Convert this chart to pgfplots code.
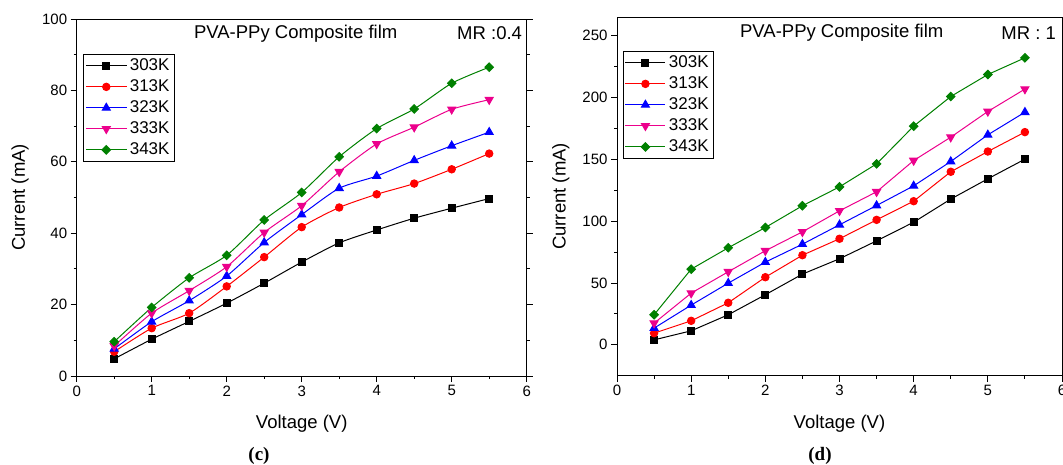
\documentclass[border=0pt]{standalone}
\usepackage{fontspec}
\setmainfont{Liberation Sans}
\newfontfamily\capfont{Liberation Serif}
\usepackage{pgfplots}
\usepackage{pgfplotstable}
\pgfplotsset{compat=1.18}

\pgfplotstableread{
V   a    b    c    d    e
0.5 4.8  6.8  7.6  8.4  9.6
1.0 10.3 13.4 15.2 17.6 19.2
1.5 15.3 17.6 21.1 23.9 27.5
2.0 20.4 25.1 28.0 30.6 33.8
2.5 26.0 33.3 37.4 40.2 43.7
3.0 31.9 41.7 45.2 47.7 51.4
3.5 37.3 47.2 52.6 57.2 61.4
4.0 40.9 50.9 56.0 65.0 69.3
4.5 44.2 53.9 60.4 69.7 74.8
5.0 47.0 57.9 64.5 74.7 82.0
5.5 49.7 62.3 68.3 77.4 86.5
}\tabc

\pgfplotstableread{
V   a     b     c     d     e
0.5 4.0   9.4   13.5  17.5  24.3
1.0 11.3  19.4  32.1  41.8  61.2
1.5 24.3  34.0  49.9  59.1  78.5
2.0 40.5  54.7  66.9  76.1  94.9
2.5 57.2  72.5  81.4  91.4  112.5
3.0 69.6  85.8  97.1  108.4 127.8
3.5 84.1  101.1 112.7 123.8 146.4
4.0 99.2  116.2 128.6 149.1 176.9
4.5 117.9 140.0 148.3 168.0 200.9
5.0 134.3 156.4 169.9 188.8 218.7
5.5 150.2 172.1 188.2 206.9 232.2
}\tabd

\definecolor{dgreen}{RGB}{0,128,0}

\pgfplotsset{
  iv/.style={
    scale only axis,
    anchor=south west,
    xmin=0, xmax=6, xtick={0,1,...,6}, minor x tick num=1,
    minor y tick num=1,
    tick align=outside, xtick pos=left, ytick pos=both,
    yticklabel pos=left,
    major tick length=6pt, minor tick length=3pt,
    every tick/.append style={black, line width=0.9pt},
    every minor tick/.append style={black, line width=0.9pt},
    axis line style={line width=0.9pt},
    tick label style={font=\fontsize{15}{18}\selectfont},
    /pgf/number format/assume math mode=true,
    label style={font=\fontsize{18.5}{22}\selectfont},
    xlabel={Voltage (V)}, ylabel={Current (mA)},
    xlabel style={at={(axis description cs:0.5,-0.1345)}, anchor=center},
    ylabel style={at={(axis description cs:-0.126,0.5)}, anchor=center},
    legend cell align=left,
    legend style={anchor=north west, draw=black, line width=0.8pt,
      font=\fontsize{17}{20}\selectfont, row sep=0pt,
      inner xsep=2pt, inner ysep=1pt,
      nodes={inner xsep=3pt, inner ysep=2pt, text height=13pt, text depth=4pt}},
    legend image code/.code={\draw[mark repeat=2,mark phase=2]
      plot coordinates {(0pt,0pt)(20pt,0pt)(40pt,0pt)};},
  },
  s303/.style={black, line width=1pt, mark=square*, mark size=3.5pt, mark options={solid}},
  s313/.style={red, line width=1pt, mark=*, mark size=3.7pt, mark options={solid}},
  s323/.style={blue, line width=1pt, mark=triangle*, mark size=4.6pt, mark options={solid}},
  s333/.style={magenta, line width=1pt, mark=triangle*, mark size=4.6pt, mark options={solid, rotate=180}},
  s343/.style={dgreen, line width=1pt, mark=square*, mark size=3pt, mark options={solid, rotate=45}},
}

\begin{document}
\begin{tikzpicture}
% (c)
\begin{axis}[iv,
  at={(76.7pt,89pt)}, width=450pt, height=357pt,
  ymin=0, ymax=100, ytick={0,20,...,100},
  legend style={at={(axis description cs:0.0149,0.902)}},
]
\addplot[s303, smooth, tension=0.4] table[x=V,y=a]{\tabc};
\addplot[s313, smooth, tension=0.4] table[x=V,y=b]{\tabc};
\addplot[s323, smooth, tension=0.4] table[x=V,y=c]{\tabc};
\addplot[s333, smooth, tension=0.4] table[x=V,y=d]{\tabc};
\addplot[s343, smooth, tension=0.4] table[x=V,y=e]{\tabc};
\legend{303K,313K,323K,333K,343K}
\node[font=\fontsize{18.5}{22}\selectfont, inner sep=0pt] at (axis cs:2.92,96) {PVA-PPy Composite film};
\node[font=\fontsize{18.5}{22}\selectfont, inner sep=0pt, anchor=east] at (axis cs:5.94,96) {MR :0.4};
\end{axis}
% (d)
\begin{axis}[iv,
  at={(617pt,89.3pt)}, width=445pt, height=358.4pt,
  ymin=-25, ymax=265, ytick={0,50,...,250},
  legend style={at={(axis description cs:0.0124,0.906)}},
]
\addplot[s303] table[x=V,y=a]{\tabd};
\addplot[s313] table[x=V,y=b]{\tabd};
\addplot[s323] table[x=V,y=c]{\tabd};
\addplot[s333] table[x=V,y=d]{\tabd};
\addplot[s343] table[x=V,y=e]{\tabd};
\legend{303K,313K,323K,333K,343K}
\node[font=\fontsize{18.5}{22}\selectfont, inner sep=0pt] at (axis cs:3.03,252.4) {PVA-PPy Composite film};
\node[font=\fontsize{18.5}{22}\selectfont, inner sep=0pt, anchor=east] at (axis cs:5.92,252.4) {MR : 1};
\end{axis}
\node[font={\capfont\bfseries\fontsize{19}{22}\selectfont}] at (259pt,9pt) {(c)};
\node[font={\capfont\bfseries\fontsize{19}{22}\selectfont}] at (820pt,9pt) {(d)};
\pgfresetboundingbox
\useasboundingbox (0pt,0pt) rectangle (1063pt,465pt);
\end{tikzpicture}
\end{document}
